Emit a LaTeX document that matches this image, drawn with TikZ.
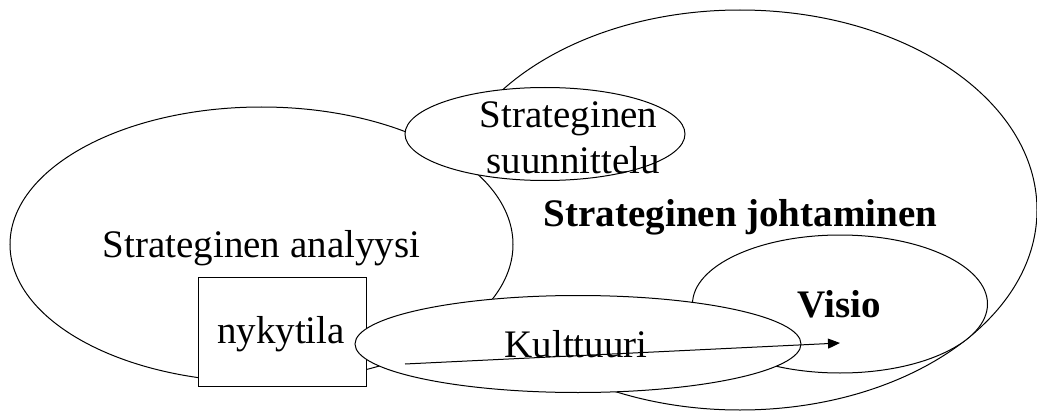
\documentclass[tikz,border=0pt]{standalone}
\usepackage{fontspec}
\setmainfont{Liberation Serif}
\usetikzlibrary{shapes.geometric,arrows.meta}

\tikzset{
  blob/.style={ellipse, draw=black, fill=white, line width=1pt, inner sep=0pt},
  boxed/.style={rectangle, draw=black, fill=white, line width=1pt, inner sep=0pt},
  lbl/.style={anchor=base, inner sep=0pt, font=\fontsize{39}{45}\selectfont},
  blbl/.style={lbl, font=\fontsize{39}{45}\selectfont\bfseries},
  flow/.style={draw=black, line width=1pt, -{Triangle[length=12pt,width=10pt]}}
}

\begin{document}
\begin{tikzpicture}[x=1pt,y=-1pt]
  \useasboundingbox (0,0) rectangle (1037,412);

  % outer field of strategic management
  \node[blob, minimum width=594pt, minimum height=400pt] (johto) at (740,210) {};
  % strategic analysis
  \node[blob, minimum width=503pt, minimum height=275pt] (analyysi) at (261.5,244.5) {};
  % strategic planning
  \node[blob, minimum width=280pt, minimum height=93pt] (suunnittelu) at (545,134) {};
  % current state box
  \node[boxed, minimum width=168pt, minimum height=109pt] (nykytila) at (282,331.5) {};
  % vision
  \node[blob, minimum width=295pt, minimum height=138pt] (visio) at (840,304) {};
  % culture
  \node[blob, minimum width=446pt, minimum height=97pt] (kulttuuri) at (578,344) {};

  % labels
  \node[lbl] (tSuun1) at (568.5,128) {Strateginen};
  \node[lbl] (tSuun2) at (573,173) {suunnittelu};
  \node[blbl] (tJohto) at (740.5,226) {Strateginen johtaminen};
  \node[lbl] (tAnal) at (261.5,257) {Strateginen analyysi};
  \node[lbl] (tNyky) at (281,343) {nykytila};
  \node[lbl] (tKult) at (576,357) {Kulttuuri};
  \node[blbl] (tVisio) at (839,317) {Visio};

  % path from the present state towards the vision
  \coordinate (lahto) at (405,364);
  \coordinate (maali) at (840,343);
  \draw[flow] (lahto) -- (maali);
\end{tikzpicture}
\end{document}
